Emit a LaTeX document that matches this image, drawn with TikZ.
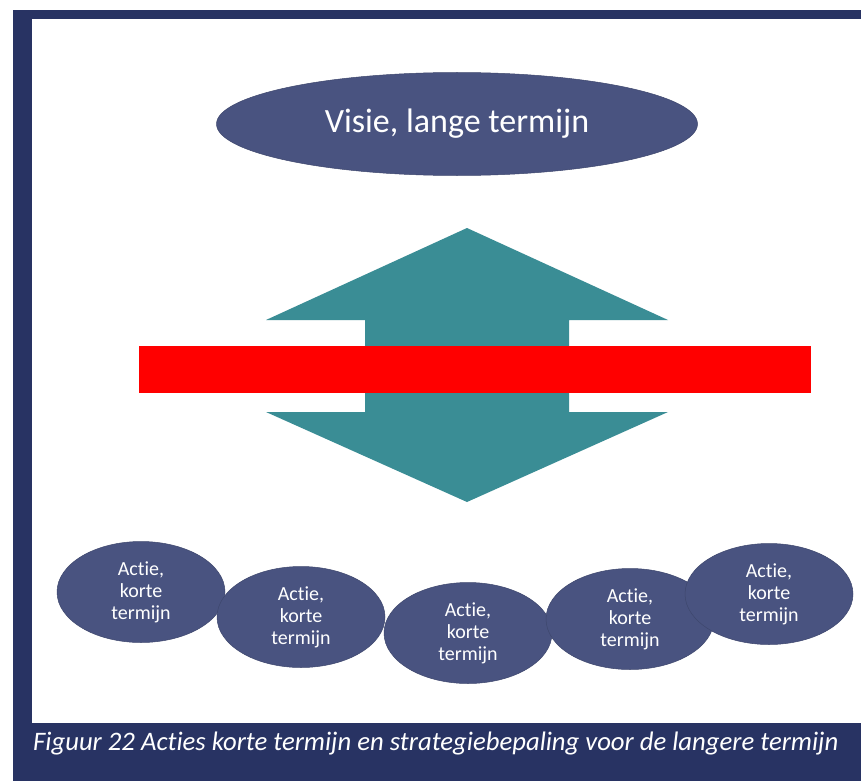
\documentclass[tikz,border=0pt]{standalone}
\usepackage{fontspec}
\setmainfont{Carlito}[Ligatures=NoCommon]
\usepackage{xcolor}
\usetikzlibrary{shapes.geometric,positioning}

\definecolor{framenavy}{RGB}{40,51,99}
\definecolor{ovalblue}{RGB}{73,83,128}
\definecolor{arrowteal}{RGB}{58,141,149}
\definecolor{barred}{RGB}{255,0,0}

\tikzset{
  oval/.style={ellipse, fill=ovalblue, draw=ovalblue!85!black, line width=0.5pt,
    inner sep=0pt, text=white, align=center},
  actie/.style={oval, minimum width=168pt, minimum height=101pt,
    font=\fontsize{20}{22}\selectfont}
}

\begin{document}
\begin{tikzpicture}[x=1pt,y=-1pt,on grid]
        \useasboundingbox (0,0) rectangle (861,781);
        % frame and caption band
        \fill[white] (0,0) rectangle (861,781);
        \fill[framenavy] (13,10) rectangle (861,781);
        \fill[white] (32,19) rectangle (861,723);
        % top oval
        \node[oval, minimum width=481pt, minimum height=103pt,
              font=\fontsize{34}{40}\selectfont] (visie) at (457,124) {Visie, lange termijn};
        % double arrow and red bar
        \fill[arrowteal] (467,228) -- (668,320) -- (569,320) -- (569,412) -- (668,412)
              -- (467,502) -- (266,412) -- (365,412) -- (365,320) -- (266,320) -- cycle;
        \fill[barred] (139,346) rectangle (811,393);
        % row of short term actions
        \node[actie] (act1)                                    at (141,592) {Actie,\\korte\\termijn};
        \node[actie] (act2) [below right=25pt and 160pt of act1] {Actie,\\korte\\termijn};
        \node[actie] (act3) [below right=16pt and 167pt of act2] {Actie,\\korte\\termijn};
        \node[actie] (act4) [above right=14pt and 162pt of act3] {Actie,\\korte\\termijn};
        \node[actie] (act5) [above right=25pt and 139pt of act4] {Actie,\\korte\\termijn};
        % caption
        \node[anchor=base west, inner sep=0pt, text=white,
              font=\itshape\fontsize{26.7}{30}\selectfont] (caption) at (33,750)
              {Figuur 22 Acties korte termijn en strategiebepaling voor de langere termijn};
\end{tikzpicture}
\end{document}
